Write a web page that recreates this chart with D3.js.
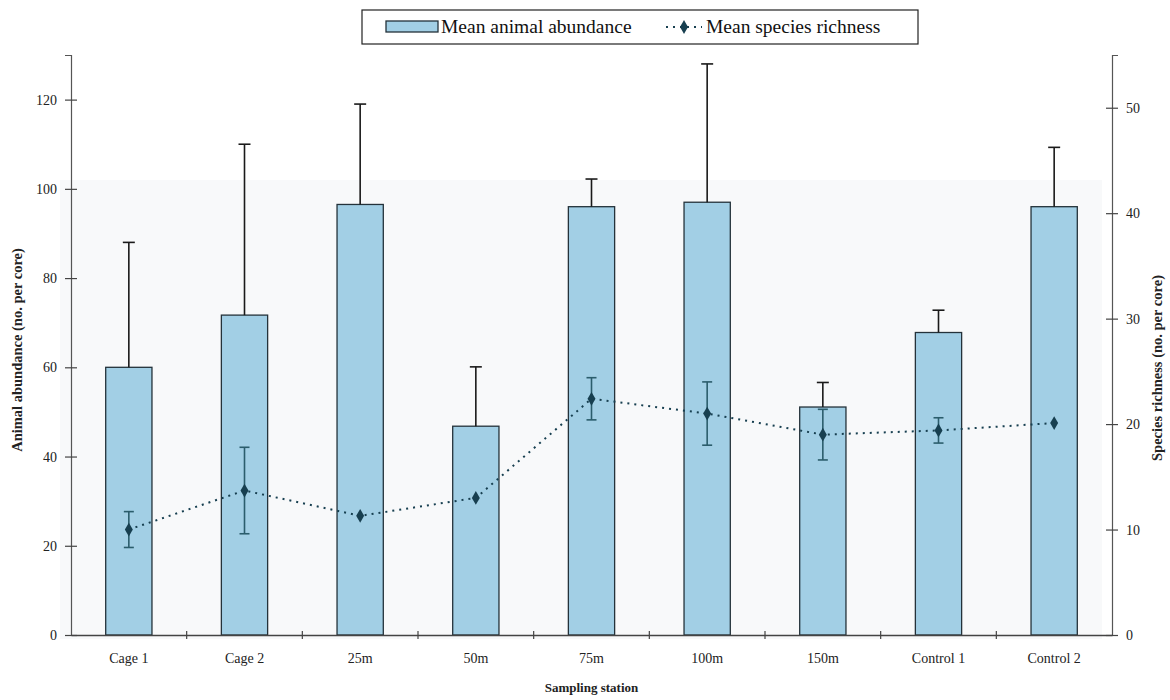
<!DOCTYPE html>
<html>
<head>
<meta charset="utf-8">
<script src="https://cdn.jsdelivr.net/npm/d3@7/dist/d3.min.js"></script>
<style>
  html, body { margin: 0; padding: 0; background: #ffffff; }
  svg { display: block; font-family: "Liberation Serif", "DejaVu Serif", serif; }
</style>
</head>
<body>
<svg id="chart" width="1170" height="700"></svg>
<script>
// Sampling stations along the transect
const stations = ["Cage 1", "Cage 2", "25m", "50m", "75m", "100m", "150m", "Control 1", "Control 2"];

// Mean animal abundance (no. per core) and its upper error
const abundanceMean = [60.0, 71.7, 96.5, 46.8, 96.0, 97.0, 51.1, 67.8, 96.0];
const abundanceErr  = [28.0, 38.3, 22.5, 13.3, 6.2, 31.0, 5.5, 5.0, 13.3];

// Mean species richness (no. per core) and its error
const richnessMean = [10.0, 13.7, 11.3, 13.0, 22.4, 21.0, 19.0, 19.4, 20.1];
const richnessErr  = [1.7, 4.1, 0, 0, 2.0, 3.0, 2.4, 1.2, 0];

// Axis ticks
const leftTicks  = [0, 20, 40, 60, 80, 100, 120];
const rightTicks = [0, 10, 20, 30, 40, 50];

const svg = d3.select("#chart");
const plotLeft = 71, plotRight = 1112, plotTop = 55, plotBottom = 635;

const x = d3.scaleBand().domain(stations).range([plotLeft, plotRight])
  .paddingInner(0.6).paddingOuter(0.3);
const yL = d3.scaleLinear().domain([0, 130]).range([plotBottom, plotTop]);
const yR = d3.scaleLinear().domain([0, 55]).range([plotBottom, plotTop]);
const cx = d => x(d) + x.bandwidth() / 2;

const barFill = "#a2cfe5";
const barStroke = "#24323a";
const richColor = "#173f50";
const richErrColor = "#2b5d6c";

// faint plot backdrop
svg.append("rect")
  .attr("x", 60).attr("y", yL(102)).attr("width", 1042).attr("height", plotBottom - yL(102) + 4)
  .attr("fill", "#f8f9fa");

// bars
svg.append("g").selectAll("rect").data(stations).join("rect")
  .attr("x", d => x(d))
  .attr("y", (d, i) => yL(abundanceMean[i]))
  .attr("width", x.bandwidth())
  .attr("height", (d, i) => yL(0) - yL(abundanceMean[i]))
  .attr("fill", barFill)
  .attr("stroke", barStroke)
  .attr("stroke-width", 1.3);

// abundance error bars (upper only)
const abErr = svg.append("g").attr("stroke", "#1a1a1a").attr("stroke-width", 1.6);
stations.forEach((s, i) => {
  const xc = cx(s);
  const y0 = yL(abundanceMean[i]);
  const y1 = yL(abundanceMean[i] + abundanceErr[i]);
  abErr.append("line").attr("x1", xc).attr("x2", xc).attr("y1", y0).attr("y2", y1);
  abErr.append("line").attr("x1", xc - 6).attr("x2", xc + 6).attr("y1", y1).attr("y2", y1);
});

// richness line
const line = d3.line().x((d, i) => cx(stations[i])).y(d => yR(d));
svg.append("path").datum(richnessMean)
  .attr("d", line)
  .attr("fill", "none")
  .attr("stroke", richColor)
  .attr("stroke-width", 2)
  .attr("stroke-dasharray", "2,5");

// richness error bars
const rErr = svg.append("g").attr("stroke", richErrColor).attr("stroke-width", 1.6);
stations.forEach((s, i) => {
  if (!richnessErr[i]) return;
  const xc = cx(s);
  const yt = yR(richnessMean[i] + richnessErr[i]);
  const yb = yR(richnessMean[i] - richnessErr[i]);
  rErr.append("line").attr("x1", xc).attr("x2", xc).attr("y1", yt).attr("y2", yb);
  rErr.append("line").attr("x1", xc - 5).attr("x2", xc + 5).attr("y1", yt).attr("y2", yt);
  rErr.append("line").attr("x1", xc - 5).attr("x2", xc + 5).attr("y1", yb).attr("y2", yb);
});

// richness markers
const diamond = d3.symbol().type(d3.symbolDiamond).size(55);
svg.append("g").selectAll("path").data(richnessMean).join("path")
  .attr("d", diamond)
  .attr("transform", (d, i) => `translate(${cx(stations[i])},${yR(d)})`)
  .attr("fill", richColor);

// left axis
const axL = svg.append("g").attr("transform", `translate(${plotLeft},0)`)
  .call(d3.axisLeft(yL).tickValues(leftTicks).tickSizeOuter(0).tickSize(6).tickPadding(8));
axL.select(".domain").attr("stroke", "#555").attr("stroke-width", 1.2);
axL.selectAll(".tick line").attr("x1", 6).attr("x2", -6).attr("stroke", "#444").attr("stroke-width", 1.2);
axL.selectAll(".tick text").attr("font-family", "Liberation Serif").attr("font-size", 14).attr("fill", "#222");

// right axis
const axR = svg.append("g").attr("transform", `translate(${plotRight},0)`)
  .call(d3.axisRight(yR).tickValues(rightTicks).tickSizeOuter(0).tickSize(6).tickPadding(8));
axR.select(".domain").attr("stroke", "#555").attr("stroke-width", 1.2);
axR.selectAll(".tick line").attr("x1", -6).attr("x2", 6).attr("stroke", "#444").attr("stroke-width", 1.2);
axR.selectAll(".tick text").attr("font-family", "Liberation Serif").attr("font-size", 14).attr("fill", "#222");

// bottom axis: labels under stations, ticks between stations
const axB = svg.append("g").attr("transform", `translate(0,${plotBottom})`)
  .call(d3.axisBottom(x).tickSize(0).tickPadding(18).tickSizeOuter(0));
axB.select(".domain").attr("stroke", "#444").attr("stroke-width", 1.4);
axB.selectAll(".tick text").attr("font-family", "Liberation Serif").attr("font-size", 14).attr("fill", "#222");
const step = x.step();
d3.range(1, stations.length).forEach(k => {
  const xb = plotLeft + k * step;
  axB.append("line").attr("x1", xb).attr("x2", xb).attr("y1", -4).attr("y2", 4)
    .attr("stroke", "#444").attr("stroke-width", 1.2);
});

// axis titles
svg.append("text")
  .attr("transform", "translate(22,350) rotate(-90)")
  .attr("text-anchor", "middle")
  .attr("font-size", 14.5).attr("font-weight", "bold").attr("fill", "#222")
  .text("Animal abundance (no. per core)");
svg.append("text")
  .attr("transform", "translate(1162,368) rotate(-90)")
  .attr("text-anchor", "middle")
  .attr("font-size", 14.5).attr("font-weight", "bold").attr("fill", "#222")
  .text("Species richness (no. per core)");
svg.append("text")
  .attr("x", (plotLeft + plotRight) / 2).attr("y", 692)
  .attr("text-anchor", "middle")
  .attr("font-size", 13).attr("font-weight", "bold").attr("fill", "#222")
  .text("Sampling station");

// legend
const lg = svg.append("g");
lg.append("rect").attr("x", 362).attr("y", 10).attr("width", 556).attr("height", 34)
  .attr("fill", "#fff").attr("stroke", "#222").attr("stroke-width", 1.2);
lg.append("rect").attr("x", 386).attr("y", 21).attr("width", 52).attr("height", 11)
  .attr("fill", barFill).attr("stroke", barStroke).attr("stroke-width", 1.3);
lg.append("text").attr("x", 441).attr("y", 33).attr("font-size", 19.5).attr("fill", "#111")
  .text("Mean animal abundance");
lg.append("line").attr("x1", 666).attr("x2", 702).attr("y1", 27).attr("y2", 27)
  .attr("stroke", richColor).attr("stroke-width", 2).attr("stroke-dasharray", "2,5");
lg.append("path").attr("d", diamond).attr("transform", "translate(684,27)").attr("fill", richColor);
lg.append("text").attr("x", 706).attr("y", 33).attr("font-size", 19.5).attr("fill", "#111")
  .text("Mean species richness");
</script>
</body>
</html>
